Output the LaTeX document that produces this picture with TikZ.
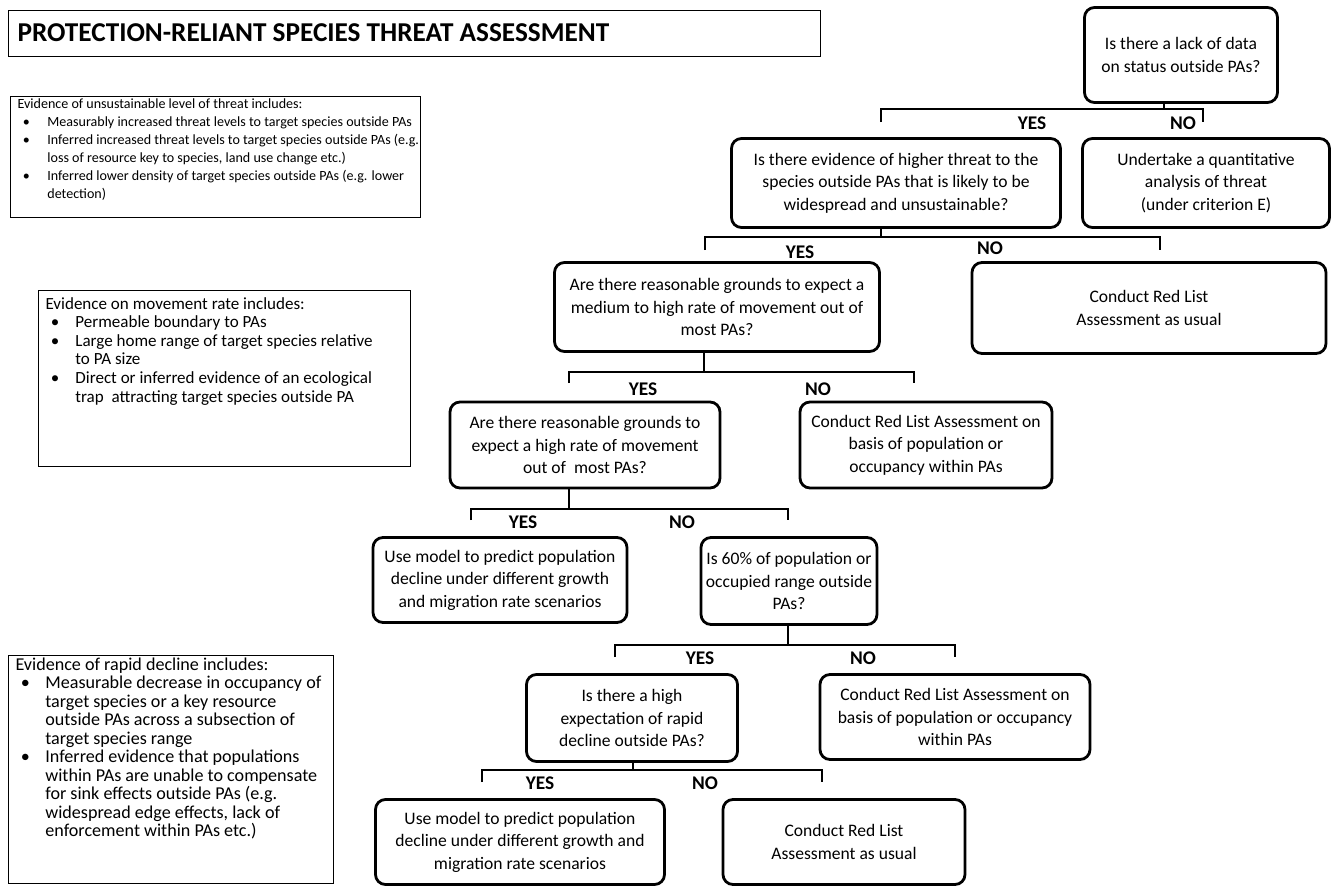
\documentclass[tikz,border=0pt]{standalone}
\usepackage{fontspec}
\setmainfont{Carlito}
\usepackage{tikz}

\newcommand{\bul}{\makebox[17pt][l]{\hspace{3pt}\textbullet}}
\newcommand{\cont}{\hspace*{17pt}}

\begin{document}
\begin{tikzpicture}[x=0.02cm,y=-0.02cm,semithick,
    wh/.style 2 args={minimum width=#1*0.02cm, minimum height=#2*0.02cm}]
    \tikzstyle{qbox}=[draw, line width=1.6pt, rounded corners=0.2cm, align=center, inner sep=2pt, font=\fontsize{10}{12.8}\selectfont]
    \tikzstyle{evbox}=[draw, line width=0.6pt, anchor=north west, inner sep=0pt]
    \tikzstyle{evtext}=[anchor=north west, align=left, inner sep=0pt]
    \tikzstyle{yn}=[font=\bfseries\fontsize{11}{13}\selectfont]
    \tikzstyle{branch}=[line width=0.6pt]

    \useasboundingbox (0,0) rectangle (1343,889);

    % title
    \node [draw, line width=0.8pt, anchor=north west, wh={812}{46}] (title) at (8,10) {};
    \node [anchor=west, inner sep=0pt, font=\bfseries\fontsize{15.5}{18}\selectfont] (titletxt) at (17,33) {PROTECTION-RELIANT SPECIES THREAT ASSESSMENT};

    % evidence boxes on the left
    \node [evbox, wh={410}{121}] (threatbox) at (10,96) {};
    \node [evtext, font=\fontsize{8}{10.3}\selectfont] (threattxt) at (17,98) {Evidence of unsustainable level of threat includes:\\
      \bul Measurably increased threat levels to target species outside PAs\\
      \bul Inferred increased threat levels to target species outside PAs (e.g.\\
      \cont loss of resource key to species, land use change etc.)\\
      \bul Inferred lower density of target species outside PAs (e.g. lower\\
      \cont detection)};

    \node [evbox, wh={372}{176}] (movebox) at (38,290) {};
    \node [evtext, font=\fontsize{9.7}{10.55}\selectfont] (movetxt) at (45,297) {Evidence on movement rate includes:\\
      \bul Permeable boundary to PAs\\
      \bul Large home range of target species relative\\
      \cont to PA size\\
      \bul Direct or inferred evidence of an ecological\\
      \cont trap~~attracting target species outside PA};

    \node [evbox, wh={325}{228}] (declinebox) at (8,655) {};
    \node [evtext, font=\fontsize{10.3}{10.55}\selectfont] (declinetxt) at (15,657) {Evidence of rapid decline includes:\\
      \bul Measurable decrease in occupancy of\\
      \cont target species or a key resource\\
      \cont outside PAs across a subsection of\\
      \cont target species range\\
      \bul Inferred evidence that populations\\
      \cont within PAs are unable to compensate\\
      \cont for sink effects outside PAs (e.g.\\
      \cont widespread edge effects, lack of\\
      \cont enforcement within PAs etc.)};

    % decision boxes
    \node [qbox, wh={193}{95}] (lack) at (1181,55) {Is there a lack of data\\on status outside PAs?};
    \node [qbox, wh={329}{89}] (higher) at (896,183) {Is there evidence of higher threat to the\\species outside PAs that is likely to be\\widespread and unsustainable?};
    \node [qbox, wh={247}{89}] (quant) at (1206,183) {Undertake a quantitative\\analysis of threat\\(under criterion E)};
    \node [qbox, wh={325}{89}] (movemed) at (717,307) {Are there reasonable grounds to expect a\\medium to high rate of movement out of\\most PAs?};
    \node [qbox, wh={354}{91}] (usual) at (1149,308) {Conduct Red List\\Assessment as usual};
    \node [qbox, wh={270}{86}] (movehigh) at (585,445) {Are there reasonable grounds to\\expect a high rate of movement\\out of~~most PAs?};
    \node [qbox, wh={252}{86}] (withinA) at (926,445) {Conduct Red List Assessment on\\basis of population or\\occupancy within PAs};
    \node [qbox, wh={254}{85}] (modelA) at (500,580) {Use model to predict population\\decline under different growth\\and migration rate scenarios};
    \node [qbox, wh={176}{87}] (sixty) at (789,581) {Is 60\% of population or\\occupied range outside\\PAs?};
    \node [qbox, wh={211}{87}] (rapid) at (632,718) {Is there a high\\expectation of rapid\\decline outside PAs?};
    \node [qbox, wh={270}{85}] (withinB) at (955,717) {Conduct Red List Assessment on\\basis of population or occupancy\\within PAs};
    \node [qbox, wh={289}{85}] (modelB) at (520,842) {Use model to predict population\\decline under different growth and\\migration rate scenarios};
    \node [qbox, wh={242}{85}] (usualB) at (844,842) {Conduct Red List\\Assessment as usual};

    % branches
    \coordinate (j1) at (1164,109); \coordinate (y1) at (881,122); \coordinate (n1) at (1203,122);
    \draw [branch] (lack.south -| j1) -- (j1);
    \draw [branch] (y1) |- (j1) -| (n1);
    \node [yn] (yes1) at (1032,123) {YES};
    \node [yn] (no1) at (1183,123) {NO};

    \coordinate (j2) at (881,237); \coordinate (y2) at (705,250); \coordinate (n2) at (1160,250);
    \draw [branch] (higher.south -| j2) -- (j2);
    \draw [branch] (y2) |- (j2) -| (n2);
    \node [yn] (yes2) at (800,252) {YES};
    \node [yn] (no2) at (990,248) {NO};

    \coordinate (j3) at (704,372); \coordinate (y3) at (569,383); \coordinate (n3) at (914,383);
    \draw [branch] (movemed.south -| j3) -- (j3);
    \draw [branch] (y3) |- (j3) -| (n3);
    \node [yn] (yes3) at (643,389) {YES};
    \node [yn] (no3) at (818,389) {NO};

    \coordinate (j4) at (569,509); \coordinate (y4) at (471,520); \coordinate (n4) at (788,520);
    \draw [branch] (movehigh.south -| j4) -- (j4);
    \draw [branch] (y4) |- (j4) -| (n4);
    \node [yn] (yes4) at (523,522) {YES};
    \node [yn] (no4) at (682,522) {NO};

    \coordinate (j5) at (788,645); \coordinate (y5) at (615,657); \coordinate (n5) at (955,657);
    \draw [branch] (sixty.south -| j5) -- (j5);
    \draw [branch] (y5) |- (j5) -| (n5);
    \node [yn] (yes5) at (700,658) {YES};
    \node [yn] (no5) at (863,658) {NO};

    \coordinate (j6) at (633,770); \coordinate (y6) at (482,782); \coordinate (n6) at (822,782);
    \draw [branch] (rapid.south -| j6) -- (j6);
    \draw [branch] (y6) |- (j6) -| (n6);
    \node [yn] (yes6) at (540,783) {YES};
    \node [yn] (no6) at (705,783) {NO};
\end{tikzpicture}
\end{document}
